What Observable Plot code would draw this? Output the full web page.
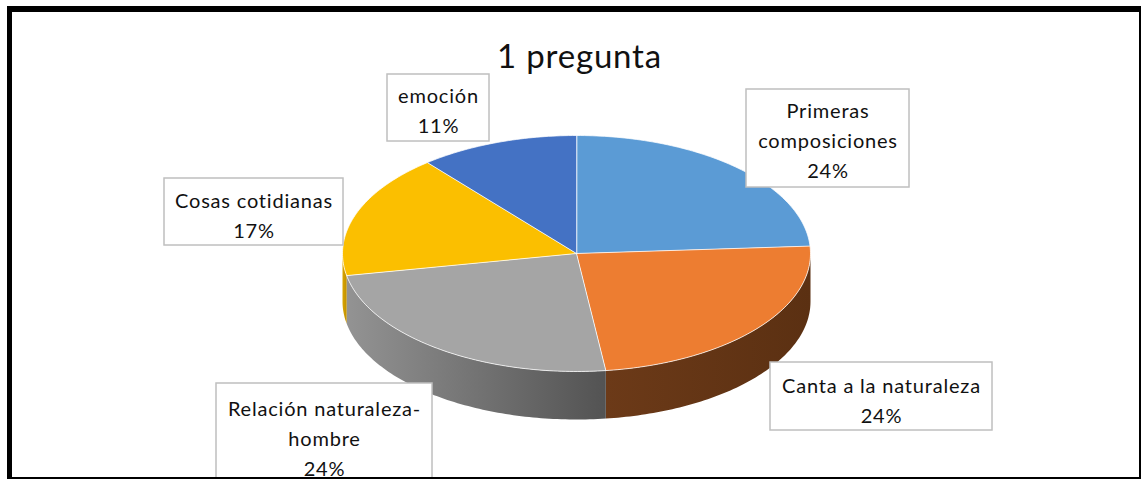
<!DOCTYPE html>
<html><head><meta charset="utf-8">
<script src="https://cdn.jsdelivr.net/npm/d3@7"></script>
<script src="https://cdn.jsdelivr.net/npm/@observablehq/plot@0.6"></script>
<style>html,body{margin:0;padding:0;background:#fff;} svg{display:block} svg text{letter-spacing:0.8px}</style>
</head><body><div id="chart"></div>
<script>
// ---- data ----
const title = "1 pregunta";
const categories = ["Primeras composiciones", "Canta a la naturaleza", "Relación naturaleza-hombre", "Cosas cotidianas", "emoción"];
const values = [24, 24, 24, 17, 11];
const labelLines = [["Primeras", "composiciones"], ["Canta a la naturaleza"], ["Relación naturaleza-", "hombre"], ["Cosas cotidianas"], ["emoción"]];

// ---- styles / layout ----
const topColors = ["#5B9BD5", "#ED7D31", "#A5A5A5", "#FBBF00", "#4472C4"];
const sideColors = [["#3a6a98", "#2f5a85"], ["#6c3a18", "#5b3012"], ["#939393", "#535353"], ["#d9a500", "#c08f00"], ["#2e5190", "#253f72"]];
const W = 1141, H = 479;
const pie = {cx: 576, cy: 253, rx: 234, ry: 118, depth: 48};
const boxes = [
  {x1: 746, x2: 909, y1: 89, y2: 187, base: 117},
  {x1: 770, x2: 992, y1: 362, y2: 430, base: 392},
  {x1: 216, x2: 432, y1: 383, y2: 495, base: 415},
  {x1: 164, x2: 343, y1: 178, y2: 245, base: 207},
  {x1: 387, x2: 489, y1: 74, y2: 141, base: 102}
];
const lineStep = 30, fontSize = 20, titleSize = 33, font = "Lato, 'Open Sans', sans-serif";

// ---- geometry from data ----
const total = d3.sum(values);
function pt(theta, dy = 0) {
  const r = theta * Math.PI / 180;
  return {x: pie.cx + pie.rx * Math.sin(r), y: pie.cy - pie.ry * Math.cos(r) + dy};
}
function arc(a, b, dy = 0) {
  const n = Math.max(2, Math.ceil(Math.abs(b - a)));
  return d3.range(n + 1).map(k => pt(a + (b - a) * k / n, dy));
}
let acc = 0;
const slices = values.map((v, i) => {
  const a0 = acc / total * 360; acc += v; const a1 = acc / total * 360;
  return {i, a0, a1, v};
});

const sideMarks = [];
const topMarks = [];
slices.forEach(s => {
  const st = Math.max(s.a0, 90), en = Math.min(s.a1, 270);
  if (st < en) {
    const pts = [...arc(st, en), ...arc(en, st, pie.depth)];
    sideMarks.push(Plot.line(pts, {x: "x", y: "y", fill: `url(#side${s.i})`, stroke: "none", curve: "linear-closed"}));
  }
  const tp = [{x: pie.cx, y: pie.cy}, ...arc(s.a0, s.a1)];
  topMarks.push(Plot.line(tp, {x: "x", y: "y", fill: topColors[s.i], stroke: "white", strokeWidth: 1, strokeOpacity: 0.75, curve: "linear-closed"}));
});

const textRows = [];
slices.forEach(s => {
  const b = boxes[s.i];
  const lines = [...labelLines[s.i], `${Math.round(s.v / total * 100)}%`];
  lines.forEach((t, k) => textRows.push({t, x: (b.x1 + b.x2) / 2, y: b.base + k * lineStep - 0.32 * fontSize}));
});

const border = [
  {x1: 7, x2: W, y1: 6, y2: 12},
  {x1: 7, x2: 12, y1: 6, y2: H},
  {x1: 1139, x2: 1141, y1: 6, y2: H},
  {x1: 7, x2: W, y1: 477, y2: H}
];

const svg = Plot.plot({
  width: W, height: H, margin: 0,
  x: {domain: [0, W], range: [0, W], axis: null},
  y: {domain: [0, H], range: [0, H], axis: null},
  style: {background: "white"},
  marks: [
    ...sideMarks,
    ...topMarks,
    Plot.rect(boxes, {x1: "x1", x2: "x2", y1: "y1", y2: "y2", fill: "white", stroke: "#bfbfbf", strokeWidth: 1.5}),
    Plot.text(textRows, {x: "x", y: "y", text: "t", fontSize, fontFamily: font, fill: "#111"}),
    Plot.text([title], {x: () => 579, y: () => 67 - 0.32 * titleSize, text: d => d, fontSize: titleSize, fontFamily: font, fill: "#111"}),
    Plot.rect(border, {x1: "x1", x2: "x2", y1: "y1", y2: "y2", fill: "black"})
  ]
});

const defs = d3.select(svg).insert("defs", ":first-child");
sideColors.forEach((c, i) => {
  const g = defs.append("linearGradient").attr("id", `side${i}`).attr("x1", 0).attr("x2", 1).attr("y1", 0).attr("y2", 0);
  g.append("stop").attr("offset", "0%").attr("stop-color", c[0]);
  g.append("stop").attr("offset", "100%").attr("stop-color", c[1]);
});
document.getElementById("chart").appendChild(svg);
</script>
</body></html>
